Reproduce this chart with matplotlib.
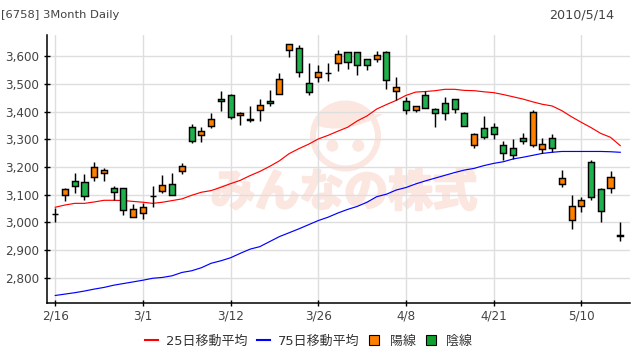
import numpy as np
import matplotlib
matplotlib.use('Agg')
import matplotlib.pyplot as plt
from matplotlib.lines import Line2D
from matplotlib.path import Path
from matplotlib.patches import PathPatch, Circle
from matplotlib.legend_handler import HandlerLine2D
import matplotlib.patheffects as pe

plt.rcParams['font.family'] = ['DejaVu Sans', 'Noto Sans CJK JP']

# Precos diarios (3 meses)
abre = [3029, 3098, 3148, 3145, 3163, 3177, 3123, 3123, 3019, 3033,
        3096, 3112, 3138, 3184, 3343, 3314, 3347, 3444, 3458, 3386,
        3373, 3404, 3437, 3462, 3620, 3628, 3501, 3523, 3538, 3574,
        3613, 3613, 3588, 3588, 3613, 3473, 3437, 3404, 3458, 3408,
        3429, 3444, 3393, 3278, 3339, 3343, 3278, 3267, 3303, 3278,
        3264, 3303, 3138, 3008, 3058, 3217, 3120, 3123, 2955]
alto = [3053, 3123, 3177, 3174, 3218, 3195, 3132, 3123, 3067, 3069,
        3132, 3171, 3177, 3214, 3355, 3343, 3395, 3474, 3462, 3397,
        3420, 3445, 3477, 3539, 3642, 3638, 3575, 3568, 3575, 3622,
        3613, 3613, 3588, 3618, 3618, 3524, 3451, 3419, 3473, 3411,
        3451, 3444, 3397, 3321, 3383, 3357, 3292, 3300, 3321, 3404,
        3303, 3318, 3189, 3098, 3091, 3224, 3123, 3184, 3002]
baixo = [3000, 3077, 3107, 3081, 3151, 3151, 3081, 3028, 3019, 3014,
         3057, 3105, 3098, 3176, 3288, 3291, 3342, 3403, 3372, 3351,
         3363, 3367, 3421, 3462, 3598, 3526, 3459, 3507, 3511, 3546,
         3553, 3532, 3550, 3577, 3481, 3441, 3392, 3397, 3411, 3345,
         3371, 3393, 3346, 3267, 3300, 3302, 3226, 3228, 3282, 3273,
         3249, 3253, 3129, 2978, 3038, 3080, 3002, 3107, 2934]
fecha = [3029, 3120, 3130, 3094, 3199, 3188, 3109, 3044, 3047, 3055,
         3096, 3134, 3098, 3202, 3293, 3329, 3372, 3437, 3379, 3394,
         3370, 3422, 3429, 3516, 3642, 3541, 3469, 3541, 3538, 3606,
         3577, 3566, 3566, 3602, 3512, 3487, 3404, 3419, 3411, 3393,
         3393, 3408, 3346, 3318, 3307, 3318, 3249, 3242, 3292, 3397,
         3282, 3267, 3159, 3058, 3080, 3091, 3040, 3163, 2952]

# Medias moveis
ma25 = [3055, 3063, 3069, 3069, 3074, 3080, 3080, 3079, 3076, 3073,
        3069, 3073, 3079, 3085, 3098, 3109, 3115, 3127, 3140, 3152,
        3169, 3184, 3202, 3222, 3248, 3266, 3282, 3301, 3314, 3329,
        3343, 3366, 3384, 3409, 3425, 3440, 3458, 3470, 3472, 3475,
        3480, 3480, 3476, 3475, 3471, 3468, 3461, 3453, 3445, 3435,
        3426, 3420, 3403, 3381, 3361, 3342, 3321, 3307, 3277]
ma75 = [2737, 2742, 2747, 2753, 2760, 2766, 2774, 2780, 2786, 2792,
        2799, 2802, 2808, 2820, 2826, 2837, 2853, 2862, 2873, 2889,
        2904, 2913, 2931, 2949, 2963, 2977, 2992, 3007, 3019, 3034,
        3047, 3058, 3073, 3093, 3102, 3117, 3126, 3139, 3150, 3160,
        3170, 3180, 3189, 3195, 3205, 3213, 3219, 3229, 3235, 3242,
        3249, 3253, 3256, 3256, 3256, 3256, 3256, 3255, 3253]

pos_datas = [0, 9, 18, 27, 36, 45, 54]
rot_datas = ['2/16', '3/1', '3/12', '3/26', '4/8', '4/21', '5/10']
precos = [2800, 2900, 3000, 3100, 3200, 3300, 3400, 3500, 3600]

LARANJA = '#ff8000'
VERDE = '#20b14c'
PX = 72 / 100  # pontos por pixel

fig = plt.figure(figsize=(6.4, 3.6), dpi=100)

# Marca d'agua em coordenadas de pixel, atras do grafico
wm = fig.add_axes([0, 0, 1, 1], zorder=0)
wm.set_xlim(0, 640)
wm.set_ylim(360, 0)
wm.axis('off')
COR_WM = '#fbe6e0'
wm.add_patch(Circle((345.5, 136), 32.5, fc='none', ec=COR_WM, lw=6 * PX))
wm.add_patch(Circle((332.3, 145.7), 6, fc=COR_WM, ec='none'))
wm.add_patch(Circle((358.3, 145.7), 6, fc=COR_WM, ec='none'))
ang = np.radians(np.linspace(200, 322, 30))
arco = np.column_stack([345.5 + 35 * np.cos(ang), 136 + 35 * np.sin(ang)])
verts = [tuple(arco[0]), (343, 137), (383, 114)] + [tuple(p) for p in arco[::-1]]
cods = [Path.MOVETO, Path.CURVE3, Path.CURVE3] + [Path.LINETO] * len(arco)
wm.add_patch(PathPatch(Path(verts, cods), fc=COR_WM, ec='none'))
wm.text(344, 193, 'みんなの株式', family='Noto Sans CJK JP', weight='bold',
        fontsize=32, color=COR_WM, ha='center', va='center',
        path_effects=[pe.withStroke(linewidth=1.8, foreground=COR_WM)])

ax = fig.add_axes([46.5 / 640, 1 - 303.3 / 360, (630 - 46.5) / 640, (303.3 - 35) / 360], zorder=1)
ax.patch.set_alpha(0)

x = np.arange(len(abre))
abre = np.array(abre)
fecha = np.array(fecha)
cores = [LARANJA if c > a else VERDE for a, c in zip(abre, fecha)]

ax.plot(x, ma25, color='#ff0000', lw=0.85, zorder=4)
ax.plot(x, ma75, color='#0000ff', lw=0.85, zorder=4)
ax.vlines(x, baixo, alto, color='black', lw=1.05, zorder=5)
ax.bar(x, fecha - abre, bottom=abre, width=0.62, color=cores, edgecolor='black',
       linewidth=1.05, zorder=6)

ax.set_xlim(-0.9, 59)
ax.set_ylim(2708.8, 3675.7)
ax.set_xticks(pos_datas)
ax.set_xticklabels(rot_datas)
ax.set_yticks(precos)
ax.set_yticklabels([f'{p:,}' for p in precos])
ax.grid(True, color='#dedede', lw=1)
ax.set_axisbelow(True)
for lado in ['top', 'right']:
    ax.spines[lado].set_visible(False)
for lado in ['left', 'bottom']:
    ax.spines[lado].set_linewidth(1.1)
ax.tick_params(axis='both', direction='inout', length=4, width=1, colors='black',
               labelcolor='#444444', labelsize=12 * PX)
ax.tick_params(axis='x', pad=2.5)
ax.tick_params(axis='y', pad=3.5)

fig.text(1 / 640, 1 - 15 / 360, '[6758] 3Month Daily', fontsize=11.5 * PX,
         color='#444444', ha='left', va='center')
fig.text(614 / 640, 1 - 15 / 360, '2010/5/14', fontsize=12.7 * PX,
         color='#444444', ha='right', va='center')

h25 = Line2D([], [], color='#ff0000', lw=1.5)
h75 = Line2D([], [], color='#0000ff', lw=1.5)
hsob = Line2D([], [], ls='none', marker='s', ms=9.5 * PX, mfc=LARANJA, mec='black', mew=0.8)
hdes = Line2D([], [], ls='none', marker='s', ms=9.5 * PX, mfc='#10a030', mec='black', mew=0.8)
fs = 13 * PX
mapa = {hsob: HandlerLine2D(numpoints=1, xpad=-0.16), hdes: HandlerLine2D(numpoints=1, xpad=-0.16)}
fig.legend([h25, h75, hsob, hdes], ['25日移動平均', '75日移動平均', '陽線', '陰線'],
           handler_map=mapa, ncol=4, loc='center', bbox_to_anchor=(308.5 / 640, 1 - 341 / 360),
           frameon=False, fontsize=fs, handlelength=1.0, handletextpad=0.6,
           columnspacing=0.75, labelcolor='#333333', borderpad=0, borderaxespad=0)

fig.savefig('out.png', dpi=100)
